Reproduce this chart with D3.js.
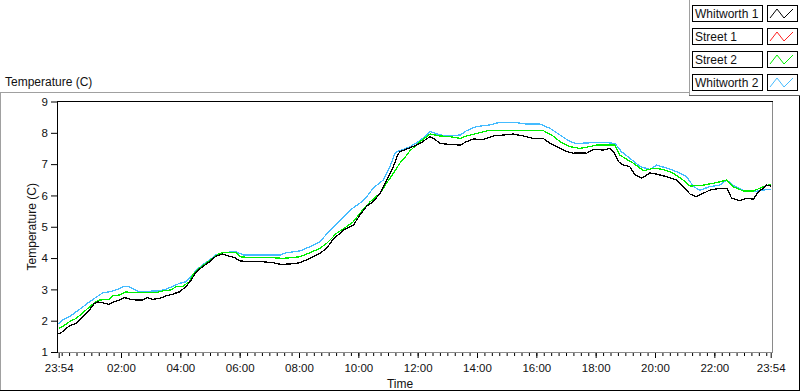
<!DOCTYPE html>
<html>
<head>
<meta charset="utf-8">
<script src="https://cdn.jsdelivr.net/npm/d3@7"></script>
<style>
  body { margin: 0; background: #fff; }
  svg text { font-family: "Liberation Sans", Arial, sans-serif; fill: #111; }
</style>
</head>
<body>
<div id="chart"></div>
<script>
// minutes elapsed since 23:54, and temperature (C)
var w1Min  = [0,8,21,35,49,62,72,79,89,102,112,123,133,143,156,170,180,190,203,217,231,244,257,268,278,291,305,318,332,345,355,367,387,414,434,448,468,488,508,528,542,555,576,596,609,623,636,650,663,677,684,690,704,710,731,751,761,771,791,812,825,838,859,879,899,919,940,960,980,994,1007,1027,1041,1054,1068,1081,1088,1101,1115,1122,1132,1142,1155,1166,1179,1189,1196,1209,1230,1250,1263,1277,1290,1304,1317,1337,1351,1361,1378,1391,1405,1415,1425,1432,1440];
var w1Temp = [1.57,1.65,1.83,1.91,2.12,2.34,2.55,2.60,2.57,2.52,2.60,2.66,2.74,2.69,2.66,2.66,2.74,2.68,2.71,2.79,2.85,2.92,3.08,3.30,3.56,3.72,3.88,4.06,4.13,4.06,4.02,3.91,3.88,3.88,3.85,3.80,3.81,3.85,3.99,4.15,4.31,4.60,4.89,5.05,5.37,5.66,5.80,6.07,6.49,6.92,7.24,7.40,7.48,7.52,7.66,7.88,7.79,7.66,7.63,7.61,7.72,7.80,7.79,7.90,7.93,7.96,7.90,7.82,7.82,7.66,7.56,7.40,7.35,7.36,7.35,7.47,7.47,7.45,7.50,7.40,7.08,6.97,6.92,6.65,6.55,6.65,6.72,6.68,6.60,6.49,6.28,6.04,5.96,6.07,6.17,6.23,6.23,5.91,5.83,5.91,5.88,6.12,6.23,6.33,6.30];

var s2Min  = [0,8,21,35,49,62,75,82,102,109,123,136,150,163,183,197,210,227,237,251,264,271,284,298,311,325,338,359,367,394,434,454,488,508,528,542,562,582,596,609,630,650,663,677,690,704,710,731,751,771,791,812,825,845,869,893,980,997,1014,1034,1054,1074,1088,1125,1135,1149,1162,1183,1203,1223,1243,1263,1277,1304,1331,1351,1364,1385,1405,1425,1440];
var s2Temp = [1.75,1.81,1.96,2.07,2.25,2.44,2.60,2.66,2.68,2.79,2.82,2.92,2.89,2.89,2.89,2.89,2.95,2.98,3.08,3.10,3.24,3.46,3.67,3.83,3.99,4.15,4.18,4.17,4.04,4.01,4.01,3.99,4.04,4.17,4.31,4.47,4.79,5.00,5.16,5.43,5.80,6.07,6.39,6.71,7.03,7.29,7.42,7.72,7.96,7.90,7.88,7.82,7.90,7.98,8.07,8.07,8.07,7.93,7.72,7.56,7.50,7.56,7.61,7.61,7.29,7.15,7.03,6.79,6.87,6.83,6.71,6.49,6.30,6.33,6.41,6.49,6.28,6.14,6.14,6.28,6.36];

// Street 1 sits underneath Street 2 in the picture
var s1Min  = s2Min.slice();
var s1Temp = s2Temp.slice();

var w2Min  = [0,8,21,35,49,62,75,89,102,116,129,140,150,163,177,190,203,217,231,244,257,271,278,291,305,318,332,359,373,414,448,461,488,508,528,549,569,589,609,623,636,656,670,680,684,697,710,731,751,771,791,812,825,845,872,893,919,946,973,994,1014,1034,1047,1074,1101,1125,1138,1155,1176,1196,1209,1230,1250,1270,1284,1297,1317,1337,1351,1364,1385,1405,1425,1440];
var w2Temp = [1.89,2.02,2.12,2.28,2.44,2.60,2.74,2.89,2.92,2.98,3.08,3.10,3.03,2.92,2.92,2.95,2.95,3.01,3.10,3.19,3.24,3.46,3.62,3.78,3.94,4.10,4.18,4.20,4.10,4.10,4.10,4.17,4.23,4.36,4.52,4.89,5.21,5.53,5.75,5.96,6.23,6.49,6.92,7.35,7.40,7.47,7.55,7.75,8.04,7.93,7.90,7.93,8.07,8.20,8.25,8.34,8.34,8.28,8.28,8.14,7.93,7.72,7.66,7.68,7.70,7.66,7.40,7.19,6.92,6.83,6.97,6.87,6.76,6.60,6.28,6.17,6.28,6.33,6.49,6.33,6.15,6.12,6.17,6.20];

var seriesNames  = ["Whitworth 1", "Street 1", "Street 2", "Whitworth 2"];
var seriesColors = ["#000000", "#ff2020", "#00f000", "#44bbff"];
var xTickLabels  = ["23:54","02:00","04:00","06:00","08:00","10:00","12:00","14:00","16:00","18:00","20:00","22:00","23:54"];
var yTicks       = [1,2,3,4,5,6,7,8,9];

var W = 800, H = 392;
var svg = d3.select("#chart").append("svg").attr("width", W).attr("height", H);

// outer panel
svg.append("line").attr("x1", 0).attr("x2", 689).attr("y1", 92.5).attr("y2", 92.5).attr("stroke", "#a0a0a0");
svg.append("line").attr("x1", 0.5).attr("x2", 0.5).attr("y1", 92).attr("y2", 391).attr("stroke", "#a0a0a0");
svg.append("line").attr("x1", 0).attr("x2", 800).attr("y1", 390.5).attr("y2", 390.5).attr("stroke", "#000");
svg.append("line").attr("x1", 799.5).attr("x2", 799.5).attr("y1", 96).attr("y2", 391).attr("stroke", "#000");

// legend frame
svg.append("line").attr("x1", 689.5).attr("x2", 689.5).attr("y1", 0).attr("y2", 96).attr("stroke", "#a0a0a0");
svg.append("line").attr("x1", 689).attr("x2", 800).attr("y1", 95.5).attr("y2", 95.5).attr("stroke", "#606060");

svg.append("text").attr("x", 5).attr("y", 86).style("font-size", "12px").text("Temperature (C)");

var plotL = 58.7, plotR = 770.7, plotT = 101.5, plotB = 352;
var x = d3.scaleLinear().domain([0, 1440]).range([plotL, plotR]);
var y = d3.scaleLinear().domain([1, 9]).range([plotB, plotT]);

function tickMinutes(lbl, i) {
  if (i === 0) return 0;
  if (i === xTickLabels.length - 1) return 1440;
  var p = lbl.split(":");
  return (+p[0] * 60 + +p[1] - 1434 + 1440) % 1440;
}
var majorMin = xTickLabels.map(tickMinutes);
var minorMin = d3.range(6, 1440, 15);

// plot frame
svg.append("line").attr("x1", 772.5).attr("x2", 772.5).attr("y1", plotT).attr("y2", 353).attr("stroke", "#8a8a8a");
svg.append("line").attr("x1", 57).attr("x2", 773).attr("y1", 352.5).attr("y2", 352.5).attr("stroke", "#8a8a8a");
svg.append("line").attr("x1", 57).attr("x2", 773).attr("y1", 101.5).attr("y2", 101.5).attr("stroke", "#000");
svg.append("line").attr("x1", 57.5).attr("x2", 57.5).attr("y1", 101).attr("y2", 353).attr("stroke", "#000");

// x axis
var xAxis = d3.axisBottom(x).tickValues(majorMin).tickSize(5).tickFormat(function (d, i) { return xTickLabels[i]; });
var gx = svg.append("g").attr("transform", "translate(0,353)").call(xAxis);
gx.select(".domain").remove();
gx.selectAll("text").style("font-size", "11.5px").attr("dy", null).attr("y", 19).style("fill", "#111");
gx.selectAll("line").attr("stroke", "#000");
svg.append("g").attr("transform", "translate(0,353)")
  .call(d3.axisBottom(x).tickValues(minorMin).tickSize(3).tickFormat(""))
  .call(function (g) { g.select(".domain").remove(); g.selectAll("line").attr("stroke", "#000"); });

// y axis
var gy = svg.append("g").attr("transform", "translate(57,0)")
  .call(d3.axisLeft(y).tickValues(yTicks).tickSize(6).tickPadding(3));
gy.select(".domain").remove();
gy.selectAll("text").style("font-size", "11.5px").style("fill", "#111");
gy.selectAll("line").attr("stroke", "#000");

svg.append("text").attr("x", 400).attr("y", 388).attr("text-anchor", "middle").style("font-size", "12px").text("Time");
svg.append("text").attr("transform", "translate(36," + (plotT + plotB) / 2 + ") rotate(-90)")
  .attr("text-anchor", "middle").style("font-size", "12px").text("Temperature (C)");

// series
var seriesMin  = [w1Min, s1Min, s2Min, w2Min];
var seriesTemp = [w1Temp, s1Temp, s2Temp, w2Temp];
var line = d3.line().x(function (d) { return x(d[0]); }).y(function (d) { return y(d[1]); });
[3, 1, 2, 0].forEach(function (k) {
  var pts = d3.zip(seriesMin[k], seriesTemp[k]);
  svg.append("path").datum(pts).attr("d", line)
    .attr("fill", "none").attr("stroke", seriesColors[k]).attr("stroke-width", 1.3)
    .attr("shape-rendering", "crispEdges");
});

// legend
var lg = svg.append("g");
seriesNames.forEach(function (name, i) {
  var yy = 5 + i * 23;
  lg.append("rect").attr("x", 692.5).attr("y", yy + 0.5).attr("width", 70).attr("height", 16)
    .attr("fill", "#fff").attr("stroke", "#000");
  lg.append("text").attr("x", 695).attr("y", yy + 13).style("font-size", "12px").text(name);
  lg.append("rect").attr("x", 767.5).attr("y", yy + 0.5).attr("width", 30).attr("height", 16)
    .attr("fill", "#fff").attr("stroke", "#000");
  var zig = [[770, yy + 13], [777, yy + 4], [784, yy + 13], [793, yy + 4]];
  lg.append("path").attr("d", d3.line()(zig)).attr("fill", "none").attr("stroke", seriesColors[i]);
});
</script>
</body>
</html>
